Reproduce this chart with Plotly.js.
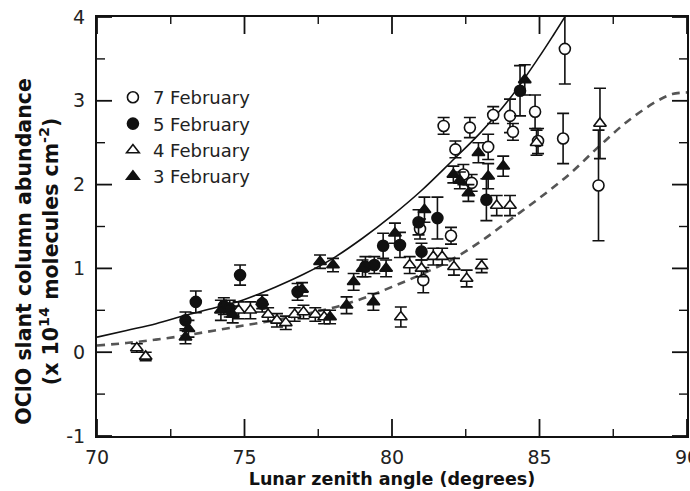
<!DOCTYPE html>
<html><head><meta charset="utf-8">
<script src="https://cdn.plot.ly/plotly-3.0.1.min.js"></script>
<style>html,body{margin:0;padding:0;background:#fff}#chart{width:690px;height:491px}</style>
</head><body><div id="chart"></div>
<script>
// 7 February (open circles)
const feb7X = [80.95, 81.06, 82.0, 81.75, 82.15, 82.42, 82.64, 82.7, 83.26, 83.43, 84.0, 84.1, 84.85, 84.95, 85.8, 85.86, 87.0];
const feb7Y = [1.47, 0.86, 1.39, 2.70, 2.42, 2.12, 2.68, 2.02, 2.45, 2.83, 2.82, 2.63, 2.87, 2.52, 2.55, 3.62, 1.99];
const feb7Err = [0.12, 0.15, 0.1, 0.1, 0.1, 0.12, 0.12, 0.1, 0.15, 0.1, 0.2, 0.1, 0.2, 0.15, 0.3, 0.42, 0.66];
// 5 February (filled circles)
const feb5X = [73.0, 73.35, 74.3, 74.5, 74.85, 75.6, 76.8, 79.1, 79.4, 79.7, 80.27, 80.9, 81.0, 81.54, 83.2, 84.34];
const feb5Y = [0.38, 0.60, 0.55, 0.52, 0.92, 0.58, 0.72, 1.02, 1.04, 1.27, 1.28, 1.55, 1.20, 1.60, 1.82, 3.12];
const feb5Err = [0.1, 0.13, 0.1, 0.1, 0.12, 0.1, 0.1, 0.12, 0.1, 0.15, 0.15, 0.15, 0.1, 0.25, 0.25, 0.3];
// 4 February (open triangles)
const feb4X = [71.35, 71.65, 74.8, 75.2, 75.8, 76.1, 76.4, 76.7, 77.0, 77.4, 77.7, 80.3, 80.6, 81.0, 81.4, 81.7, 82.1, 82.53, 83.04, 83.55, 84.0, 84.9, 87.05];
const feb4Y = [0.05, -0.05, 0.50, 0.50, 0.45, 0.38, 0.35, 0.45, 0.48, 0.45, 0.42, 0.42, 1.04, 1.00, 1.14, 1.14, 1.02, 0.88, 1.03, 1.75, 1.75, 2.50, 2.73];
const feb4Err = [0.05, 0.05, 0.1, 0.1, 0.08, 0.08, 0.08, 0.08, 0.08, 0.08, 0.08, 0.12, 0.1, 0.1, 0.1, 0.1, 0.1, 0.1, 0.08, 0.12, 0.12, 0.15, 0.42];
// 3 February (filled triangles)
const feb3X = [73.0, 73.1, 74.2, 74.6, 75.6, 76.95, 77.56, 77.9, 78.0, 78.46, 78.7, 79.0, 79.37, 79.8, 80.1, 81.1, 82.08, 82.3, 82.59, 82.93, 83.26, 83.77, 84.5];
const feb3Y = [0.18, 0.28, 0.50, 0.45, 0.60, 0.75, 1.08, 0.42, 1.04, 0.56, 0.84, 1.00, 0.60, 1.00, 1.42, 1.70, 2.12, 2.05, 1.90, 2.38, 2.10, 2.22, 3.25];
const feb3Err = [0.08, 0.1, 0.12, 0.1, 0.08, 0.08, 0.08, 0.08, 0.08, 0.1, 0.1, 0.1, 0.1, 0.1, 0.12, 0.15, 0.1, 0.1, 0.1, 0.12, 0.15, 0.12, 0.18];
// model curves
const solidX = [70, 71, 72, 73, 74, 75, 76, 77, 78, 79, 80, 81, 82, 83, 84, 85, 85.5, 86, 86.3];
const solidY = [0.18, 0.26, 0.34, 0.44, 0.53, 0.63, 0.77, 0.93, 1.12, 1.36, 1.63, 1.93, 2.27, 2.62, 3.03, 3.53, 3.8, 4.08, 4.25];
const dashX = [70, 71, 72, 73, 74, 75, 76, 77, 78, 79, 80, 81, 82, 83, 84, 85, 86, 87, 88, 89, 89.5, 90];
const dashY = [0.08, 0.11, 0.15, 0.2, 0.26, 0.32, 0.38, 0.45, 0.53, 0.64, 0.78, 0.93, 1.1, 1.32, 1.58, 1.84, 2.12, 2.45, 2.76, 3.0, 3.08, 3.1];
// ticks
const xTickVals = [70, 75, 80, 85, 90];
const xTickText = ['70', '75', '80', '85', '90'];
const xMinorVals = [72.5, 77.5, 82.5, 87.5];
const yTickVals = [-1, 0, 1, 2, 3, 4];
const yTickText = ['-1', '0', '1', '2', '3', '4'];
const yMinorVals = [-0.5, 0.5, 1.5, 2.5, 3.5];

const errStyle = (arr) => ({type: 'data', array: arr, visible: true, color: '#111', thickness: 1.6, width: 6});
const series = (name, x, y, err, symbol, fill) => ({
  type: 'scatter', mode: 'markers', name, x, y,
  error_y: errStyle(err),
  marker: {symbol, size: 11, color: fill, line: {color: '#111', width: 1.6}}
});

const traces = [
  {type: 'scatter', mode: 'lines', x: dashX, y: dashY, showlegend: false, hoverinfo: 'skip',
   line: {color: '#555', width: 2.6, dash: '8px,6px', shape: 'spline'}},
  {type: 'scatter', mode: 'lines', x: solidX, y: solidY, showlegend: false, hoverinfo: 'skip',
   line: {color: '#111', width: 1.6, shape: 'spline'}},
  series('7 February', feb7X, feb7Y, feb7Err, 'circle', '#fff'),
  series('5 February', feb5X, feb5Y, feb5Err, 'circle', '#111'),
  series('4 February', feb4X, feb4Y, feb4Err, 'triangle-up', '#fff'),
  series('3 February', feb3X, feb3Y, feb3Err, 'triangle-up', '#111')
];

// inside tick marks on all four sides, placed through the axes' own scales
const W = 590, H = 419;
const tickShapes = [];
const tickLine = (lenPx) => ({color: '#111', width: lenPx > 10 ? 1.8 : 1.4});
const addX = (vals, lenPx) => vals.forEach(v => {
  tickShapes.push({type: 'line', xref: 'x', yref: 'paper', x0: v, x1: v, y0: 0, y1: lenPx / H, line: tickLine(lenPx)});
  tickShapes.push({type: 'line', xref: 'x', yref: 'paper', x0: v, x1: v, y0: 1, y1: 1 - lenPx / H, line: tickLine(lenPx)});
});
const addY = (vals, lenPx) => vals.forEach(v => {
  tickShapes.push({type: 'line', xref: 'paper', yref: 'y', y0: v, y1: v, x0: 0, x1: lenPx / W, line: tickLine(lenPx)});
  tickShapes.push({type: 'line', xref: 'paper', yref: 'y', y0: v, y1: v, x0: 1, x1: 1 - lenPx / W, line: tickLine(lenPx)});
});
addX(xTickVals, 17); addX(xMinorVals, 7);
addY(yTickVals, 15); addY(yMinorVals, 8);

const layout = {
  width: 690, height: 491,
  margin: {l: 97, r: 3, t: 17, b: 55},
  paper_bgcolor: '#fff', plot_bgcolor: '#fff',
  showlegend: true,
  legend: {x: 0.027, y: 0.852, xanchor: 'left', yanchor: 'top', bgcolor: 'rgba(0,0,0,0)',
    font: {family: 'DejaVu Sans', size: 18, color: '#222'}, traceorder: 'normal'},
  xaxis: {
    range: [70, 90], tickmode: 'array', tickvals: xTickVals, ticktext: xTickText,
    showgrid: false, zeroline: false, showline: true, linecolor: '#111', linewidth: 2,
    mirror: true, ticks: 'outside', ticklen: 3, tickcolor: 'rgba(0,0,0,0)', ticklabeloverflow: 'allow',
    tickfont: {family: 'DejaVu Sans', size: 19, color: '#222'},
    title: {text: 'Lunar zenith angle (degrees)', standoff: 6,
      font: {family: 'DejaVu Sans', size: 17.5, color: '#111', weight: 'bold'}}
  },
  yaxis: {
    range: [-1, 4], tickmode: 'array', tickvals: yTickVals, ticktext: yTickText,
    showgrid: false, zeroline: false, showline: true, linecolor: '#111', linewidth: 2,
    mirror: true, ticks: 'outside', ticklen: 6, tickcolor: 'rgba(0,0,0,0)',
    tickfont: {family: 'DejaVu Sans', size: 19, color: '#222'}
  },
  shapes: tickShapes,
  annotations: [{
    xref: 'paper', yref: 'paper', x: -0.1, y: 0.44, xanchor: 'center', yanchor: 'middle',
    textangle: -90, showarrow: false,
    text: 'OClO slant column abundance<br>(x 10<sup>14</sup> molecules cm<sup>-2</sup>)',
    font: {family: 'DejaVu Sans', size: 20.5, color: '#111', weight: 'bold'}
  }]
};

Plotly.newPlot('chart', traces, layout, {displayModeBar: false, staticPlot: true});
</script>
</body></html>
